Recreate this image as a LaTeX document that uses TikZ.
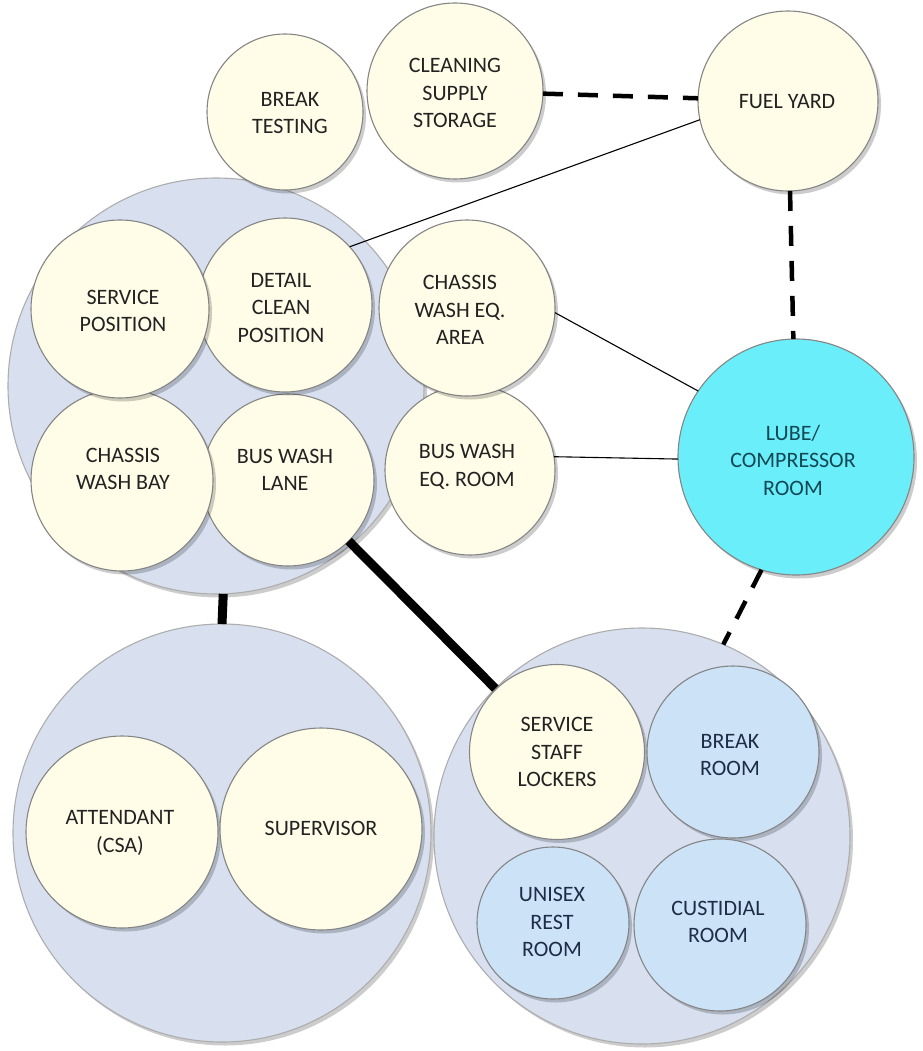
\documentclass[tikz,border=0pt]{standalone}
\usepackage{fontspec}
\setmainfont{Carlito}
\usetikzlibrary{shadows}
\definecolor{yelC}{RGB}{255,253,232}
\definecolor{yelM}{RGB}{251,245,210}
\definecolor{yelE}{RGB}{214,204,164}
\definecolor{grpC}{RGB}{216,224,240}
\definecolor{grpM}{RGB}{214,221,236}
\definecolor{grpE}{RGB}{240,243,249}
\definecolor{bluC}{RGB}{204,226,247}
\definecolor{bluM}{RGB}{194,217,240}
\definecolor{bluE}{RGB}{150,178,208}
\definecolor{cyaC}{RGB}{106,238,250}
\definecolor{cyaM}{RGB}{96,228,244}
\definecolor{cyaE}{RGB}{60,186,210}
\definecolor{txtY}{RGB}{34,34,34}
\definecolor{txtB}{RGB}{30,44,72}
\definecolor{txtC}{RGB}{18,72,84}
\pgfdeclareradialshading{yelsh}{\pgfpoint{-7bp}{7bp}}{color(0bp)=(yelC); color(32bp)=(yelC); color(45bp)=(yelM); color(50bp)=(yelE)}
\pgfdeclareradialshading{grpsh}{\pgfpoint{0bp}{0bp}}{color(0bp)=(grpC); color(44bp)=(grpC); color(46.5bp)=(grpE); color(49bp)=(grpM); color(50bp)=(grpM)}
\pgfdeclareradialshading{blush}{\pgfpoint{-7bp}{7bp}}{color(0bp)=(bluC); color(32bp)=(bluC); color(45bp)=(bluM); color(50bp)=(bluE)}
\pgfdeclareradialshading{cyash}{\pgfpoint{-7bp}{7bp}}{color(0bp)=(cyaC); color(32bp)=(cyaC); color(45bp)=(cyaM); color(50bp)=(cyaE)}
\tikzset{
  bub/.style={circle, inner sep=0pt, outer sep=0pt, minimum size=#1, draw=black!48, line width=1.1pt,
    drop shadow={shadow xshift=3pt, shadow yshift=-3.5pt, opacity=0.2, fill=black}},
  yel/.style={bub=#1, shade, shading=yelsh},
  blu/.style={bub=#1, shade, shading=blush},
  cya/.style={bub=#1, shade, shading=cyash},
  grp/.style={bub=#1, shade, shading=grpsh, draw=black!32},
  txt/.style={align=center, inner sep=0pt, font=\fontsize{22}{27.5}\selectfont, text=txtY},
  txtb/.style={txt, text=txtB},
  txtc/.style={txt, text=txtC},
  thinl/.style={draw=black, line width=1.1pt},
  dashl/.style={draw=black, line width=4.5pt, dash pattern=on 20pt off 15pt},
  thickl/.style={draw=black, line width=9pt}
}
\begin{document}
\begin{tikzpicture}[x=1pt,y=-1pt]
\useasboundingbox (0,0) rectangle (922,1051);
% group circles
\node[grp=416] (gA) at (216,386) {};
\node[grp=418] (gL) at (222,833) {};
\node[grp=416] (gR) at (642,836) {};
% top row
\node[yel=156] (bt) at (285,112) {};
\node[yel=176] (css) at (455,91) {};
\node[yel=180] (fy) at (788,101) {};
% group A
\node[yel=170] (bwer) at (470,470) {};
\node[yel=172] (bwl) at (288,480) {};
\node[yel=182] (cwb) at (122,480) {};
\node[yel=176] (cwea) at (467,308) {};
\node[yel=174] (dcp) at (285,305) {};
\node[yel=178] (sp) at (120,309) {};
% lube
\node[cya=236] (lube) at (796,457) {};
% group L
\node[yel=192] (att) at (122,832) {};
\node[yel=202] (sup) at (321,829) {};
% group R
\node[yel=175] (ssl) at (557,752) {};
\node[blu=172] (brm) at (733,752) {};
\node[blu=152] (urr) at (553,923) {};
\node[blu=172] (cur) at (720,925) {};
% texts
\node[txt] (bt-t) at (290,113) {BREAK\\TESTING};
\node[txt] (css-t) at (455,93) {CLEANING\\SUPPLY\\STORAGE};
\node[txt] (fy-t) at (787,102) {FUEL YARD};
\node[txt] (sp-t) at (123,311) {SERVICE\\POSITION};
\node[txt] (dcp-t) at (281,308) {DETAIL\\CLEAN\\POSITION};
\node[txt] (cwea-t) at (460,310) {CHASSIS\\WASH EQ.\\AREA};
\node[txt] (cwb-t) at (123,469) {CHASSIS\\WASH BAY};
\node[txt] (bwl-t) at (285,470) {BUS WASH\\LANE};
\node[txt] (bwer-t) at (467,467) {BUS WASH\\EQ. ROOM};
\node[txtc] (lube-t) at (793,460) {LUBE/\\COMPRESSOR\\ROOM};
\node[txt] (att-t) at (120,833) {ATTENDANT\\(CSA)};
\node[txt] (sup-t) at (321,828) {SUPERVISOR};
\node[txt] (ssl-t) at (557,752) {SERVICE\\STAFF\\LOCKERS};
\node[txtb] (brm-t) at (730,755) {BREAK\\ROOM};
\node[txtb] (urr-t) at (552,922) {UNISEX\\REST\\ROOM};
\node[txtb] (cur-t) at (718,922) {CUSTIDIAL\\ROOM};
% connectors
\draw[dashl] (css) -- (fy);
\draw[thinl] (dcp.42) -- (fy.192);
\draw[dashl] (fy) -- (lube);
\draw[thinl] (cwea.357) -- (lube.146);
\draw[thinl] (bwer.9) -- (lube.181);
\draw[dashl] (lube.253) -- (gR.67);
\draw[thickl] (bwl) -- (gR);
\draw[thickl] (gA.272) -- (gL.north);
\end{tikzpicture}
\end{document}
